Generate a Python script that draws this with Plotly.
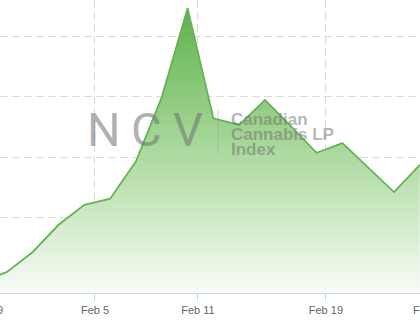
import plotly.graph_objects as go

# ---- data ----
point_index = list(range(-1, 17))
index_values = [393, 410, 443, 488, 521, 531, 593, 699, 846, 664, 653, 694,
                651, 607, 623, 582, 542, 587]
tick_positions = [-0.81, 3.41, 7.4, 12.36, 16.4]
tick_labels = ["Jan 29", "Feb 5", "Feb 11", "Feb 19", "Feb 25"]
grid_values = [400, 500, 600, 700, 800]

x_range = [-0.271, 16.008]
y_range = [375.2, 859.5]

LINE = "rgb(104,178,86)"
GRID = "#d9d9d9"

fig = go.Figure()
fig.add_trace(go.Scatter(
    x=point_index, y=index_values, mode="lines",
    line=dict(color=LINE, width=1.8),
    fill="tozeroy",
    fillgradient=dict(
        type="vertical",
        start=y_range[0], stop=y_range[1],
        colorscale=[[0, "rgba(248,252,247,1)"],
                    [0.5, "rgba(168,216,155,1)"],
                    [1, "rgba(90,175,70,1)"]],
    ),
    hoverinfo="skip", showlegend=False,
))

fig.update_layout(
    width=420, height=322,
    margin=dict(l=0, r=0, t=0, b=29),
    paper_bgcolor="white", plot_bgcolor="white",
    font=dict(family="Liberation Sans, Arial, sans-serif", size=11, color="#666666"),
    xaxis=dict(
        range=x_range, tickmode="array", tickvals=tick_positions, ticktext=tick_labels,
        showgrid=True, gridcolor=GRID, griddash="8px,4px", gridwidth=1,
        showline=True, linecolor="#ccd6eb", linewidth=1,
        ticks="outside", ticklen=7, tickcolor="#ccd6eb",
        zeroline=False, ticklabeloverflow="allow",
    ),
    yaxis=dict(
        range=y_range, tickmode="array", tickvals=grid_values,
        showticklabels=False, showgrid=True, gridcolor=GRID, griddash="8px,4px",
        gridwidth=1, zeroline=False, showline=False,
    ),
)

# Partial tick labels at the cropped edges
span = x_range[1] - x_range[0]
for pos, lab in zip(tick_positions, tick_labels):
    if pos < x_range[0] or pos > x_range[1]:
        fig.add_annotation(
            x=(pos - x_range[0]) / span, y=0, xref="paper", yref="paper",
            text=lab, showarrow=False, xanchor="center", yanchor="middle",
            yshift=-17, font=dict(size=11, color="#666666"),
        )

# Watermark logo: NCV | Canadian Cannabis LP Index
def py(p):
    return (293 - p) / 293

wm = "rgba(110,110,110,0.55)"
for letter, cx in zip(["N", "C", "V"], [104, 146, 188]):
    fig.add_annotation(
        x=cx / 420, y=py(129), xref="paper", yref="paper", text=letter,
        showarrow=False, xanchor="center", yanchor="middle",
        font=dict(family="Roboto, sans-serif", size=47, color=wm, weight=400),
    )
for line_txt, top in zip(["Canadian", "Cannabis LP", "Index"], [113, 128, 143]):
    fig.add_annotation(
        x=229 / 420, y=py(top + 6), xref="paper", yref="paper", text=line_txt,
        showarrow=False, xanchor="left", yanchor="middle",
        font=dict(family="Liberation Sans, Arial, sans-serif", size=17,
                  color="rgba(110,110,110,0.5)", weight="bold"),
    )
fig.add_shape(type="line", xref="paper", yref="paper",
              x0=218 / 420, x1=218 / 420, y0=py(110), y1=py(153),
              line=dict(color="rgba(150,150,150,0.45)", width=1))

fig.write_html("out.html")
